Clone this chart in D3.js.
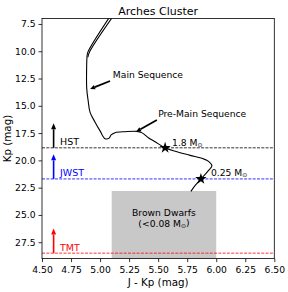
<!DOCTYPE html>
<html>
<head>
<meta charset="utf-8">
<script src="https://cdn.jsdelivr.net/npm/d3@7"></script>
<style>
  body { margin: 0; background: #fff; }
  text { font-family: "DejaVu Sans", sans-serif; }
</style>
</head>
<body>
<svg id="chart" width="288" height="292"></svg>
<script>
// isochrone track, [J - Kp, Kp]
const isoMain = [
    [5.08, 6.9], [4.894, 10.1], [4.888, 10.45], [4.884, 11.7], [4.885, 13.4],
    [4.897, 14.5], [4.914, 15.6], [4.957, 16.5], [5.0, 17.3], [5.043, 18.01],
    [5.078, 17.96], [5.095, 17.66], [5.129, 17.46], [5.216, 17.37], [5.316, 17.34],
    [5.362, 17.48], [5.416, 17.92], [5.474, 18.30], [5.560, 18.85], [5.647, 19.17],
    [5.776, 19.54], [5.888, 19.86], [5.934, 20.09], [5.963, 20.50], [5.927, 21.01],
    [5.868, 21.70], [5.819, 22.29], [5.782, 22.84]
];
const isoUpper = [[5.105, 6.9], [4.91, 10.05], [4.895, 10.55]];

const massStars = [[5.560, 18.85], [5.868, 21.70]];
const massLabels = [
    {x: 5.62, y: 18.38, m: '1.8 M'},
    {x: 5.955, y: 21.13, m: '0.25 M'}
];

const limitNames = ['HST', 'JWST', 'TMT'];
const limitMags = [18.85, 21.7, 28.5];
const limitColors = ['black', 'blue', 'red'];
const arrowX = 4.6;
const arrowLen = 2.25;

const bdBox = {x0: 5.1, x1: 6.0, y0: 22.8, y1: 29};

const xTicks = [4.5, 4.75, 5.0, 5.25, 5.5, 5.75, 6.0, 6.25, 6.5];
const yTicks = [7.5, 10, 12.5, 15, 17.5, 20, 22.5, 25, 27.5];

const margin = {left: 42, top: 18.5, right: 13.7, bottom: 33.4};
const W = 288, H = 292;
const svg = d3.select('#chart');

const x = d3.scaleLinear().domain([4.5, 6.5]).range([margin.left, W - margin.right]);
const y = d3.scaleLinear().domain([7, 29]).range([margin.top, H - margin.bottom]);

svg.append('defs').append('clipPath').attr('id', 'clip')
    .append('rect')
    .attr('x', x(4.5)).attr('y', y(7))
    .attr('width', x(6.5) - x(4.5)).attr('height', y(29) - y(7));

const plot = svg.append('g').attr('clip-path', 'url(#clip)');

// brown dwarf region
plot.append('rect')
    .attr('x', x(bdBox.x0)).attr('y', y(bdBox.y0))
    .attr('width', x(bdBox.x1) - x(bdBox.x0))
    .attr('height', y(bdBox.y1) - y(bdBox.y0))
    .attr('fill', '#c8c8c8');

// detection limits
limitMags.forEach((m, i) => {
    plot.append('line')
        .attr('x1', x(4.5)).attr('x2', x(6.5))
        .attr('y1', y(m)).attr('y2', y(m))
        .attr('stroke', limitColors[i])
        .attr('stroke-width', 0.8)
        .attr('stroke-dasharray', '3,1.3');
});

const line = d3.line().x(d => x(d[0])).y(d => y(d[1])).curve(d3.curveCatmullRom);

plot.append('path').datum(isoMain)
    .attr('d', line).attr('fill', 'none')
    .attr('stroke', 'black').attr('stroke-width', 1.1);
plot.append('path').datum(isoUpper)
    .attr('d', line).attr('fill', 'none')
    .attr('stroke', 'black').attr('stroke-width', 1.1);

// stars
plot.selectAll('.star')
    .data(massStars)
    .enter()
    .append('path')
    .attr('class', 'star')
    .attr('d', d3.symbol().type(d3.symbolStar).size(40))
    .attr('transform', d => 'translate(' + x(d[0]) + ',' + y(d[1]) + ')')
    .attr('fill', 'black');

// annotation arrows
function drawArrow(g, x1, y1, x2, y2, color, width, headW, headL) {
    const dx = x2 - x1, dy = y2 - y1;
    const len = Math.sqrt(dx * dx + dy * dy);
    const ux = dx / len, uy = dy / len;
    const bx = x2 - ux * headL, by = y2 - uy * headL;
    g.append('line')
        .attr('x1', x1).attr('y1', y1).attr('x2', bx).attr('y2', by)
        .attr('stroke', color).attr('stroke-width', width);
    g.append('path')
        .attr('d', 'M' + x2 + ',' + y2 +
            'L' + (bx - uy * headW / 2) + ',' + (by + ux * headW / 2) +
            'L' + (bx + uy * headW / 2) + ',' + (by - ux * headW / 2) + 'Z')
        .attr('fill', color);
}

limitMags.forEach((m, i) => {
    drawArrow(svg, x(arrowX), y(m), x(arrowX), y(m - arrowLen), limitColors[i], 1.6, 5, 6);
    svg.append('text')
        .attr('x', x(4.655)).attr('y', y(m) - 2.5)
        .attr('font-size', 9.5)
        .attr('fill', limitColors[i])
        .text(limitNames[i]);
});

drawArrow(svg, x(5.086), y(12.73), x(4.914), y(13.46), 'black', 1.8, 4.5, 5);
drawArrow(svg, x(5.489), y(16.3), x(5.31), y(17.37), 'black', 1.8, 4.5, 5);

svg.append('text').attr('x', x(5.11)).attr('y', y(12.18)).attr('dy', '0.35em')
    .attr('font-size', 9.2).text('Main Sequence');
svg.append('text').attr('x', x(5.50)).attr('y', y(15.69)).attr('dy', '0.35em')
    .attr('font-size', 9.2).text('Pre-Main Sequence');

massLabels.forEach(d => {
    const t = svg.append('text').attr('x', x(d.x)).attr('y', y(d.y)).attr('dy', '0.35em')
        .attr('font-size', 9.2).text(d.m);
    t.append('tspan').attr('font-size', 6).attr('dy', '0.2em').text('\u2299');
});

const bdX = x((bdBox.x0 + bdBox.x1) / 2);
svg.append('text').attr('x', bdX).attr('y', y(24.79)).attr('dy', '0.35em')
    .attr('text-anchor', 'middle').attr('font-size', 9.2).text('Brown Dwarfs');
const bd2 = svg.append('text').attr('x', bdX).attr('y', y(25.77)).attr('dy', '0.35em')
    .attr('text-anchor', 'middle').attr('font-size', 9.2).text('(<0.08 M');
bd2.append('tspan').attr('font-size', 6).attr('dy', '0.2em').text('\u2299');
bd2.append('tspan').attr('dy', '-0.2em').text(')');

// axes
const xAxis = svg.append('g')
    .attr('transform', 'translate(0,' + y(29) + ')')
    .call(d3.axisBottom(x).tickValues(xTicks).tickFormat(d3.format('.2f')).tickSizeOuter(0).tickSize(3.5));
const yAxis = svg.append('g')
    .attr('transform', 'translate(' + x(4.5) + ',0)')
    .call(d3.axisLeft(y).tickValues(yTicks).tickFormat(d3.format('.1f')).tickSizeOuter(0).tickSize(3.5));
[xAxis, yAxis].forEach(a => {
    a.selectAll('text').attr('font-size', 9.2).attr('fill', 'black')
        .attr('font-family', '"DejaVu Sans", sans-serif');
    a.selectAll('line').attr('stroke-width', 0.8);
    a.select('.domain').remove();
});
xAxis.selectAll('text').attr('dy', '0.9em');

svg.append('rect')
    .attr('x', x(4.5)).attr('y', y(7))
    .attr('width', x(6.5) - x(4.5)).attr('height', y(29) - y(7))
    .attr('fill', 'none').attr('stroke', 'black').attr('stroke-width', 0.8);

svg.append('text').attr('x', (x(4.5) + x(6.5)) / 2).attr('y', 286)
    .attr('text-anchor', 'middle').attr('font-size', 10.3).text('J - Kp (mag)');
svg.append('text')
    .attr('transform', 'translate(11,' + ((y(7) + y(29)) / 2) + ') rotate(-90)')
    .attr('text-anchor', 'middle').attr('font-size', 10.3).text('Kp (mag)');
svg.append('text').attr('x', (x(4.5) + x(6.5)) / 2).attr('y', 15)
    .attr('text-anchor', 'middle').attr('font-size', 11).text('Arches Cluster');
</script>
</body>
</html>
